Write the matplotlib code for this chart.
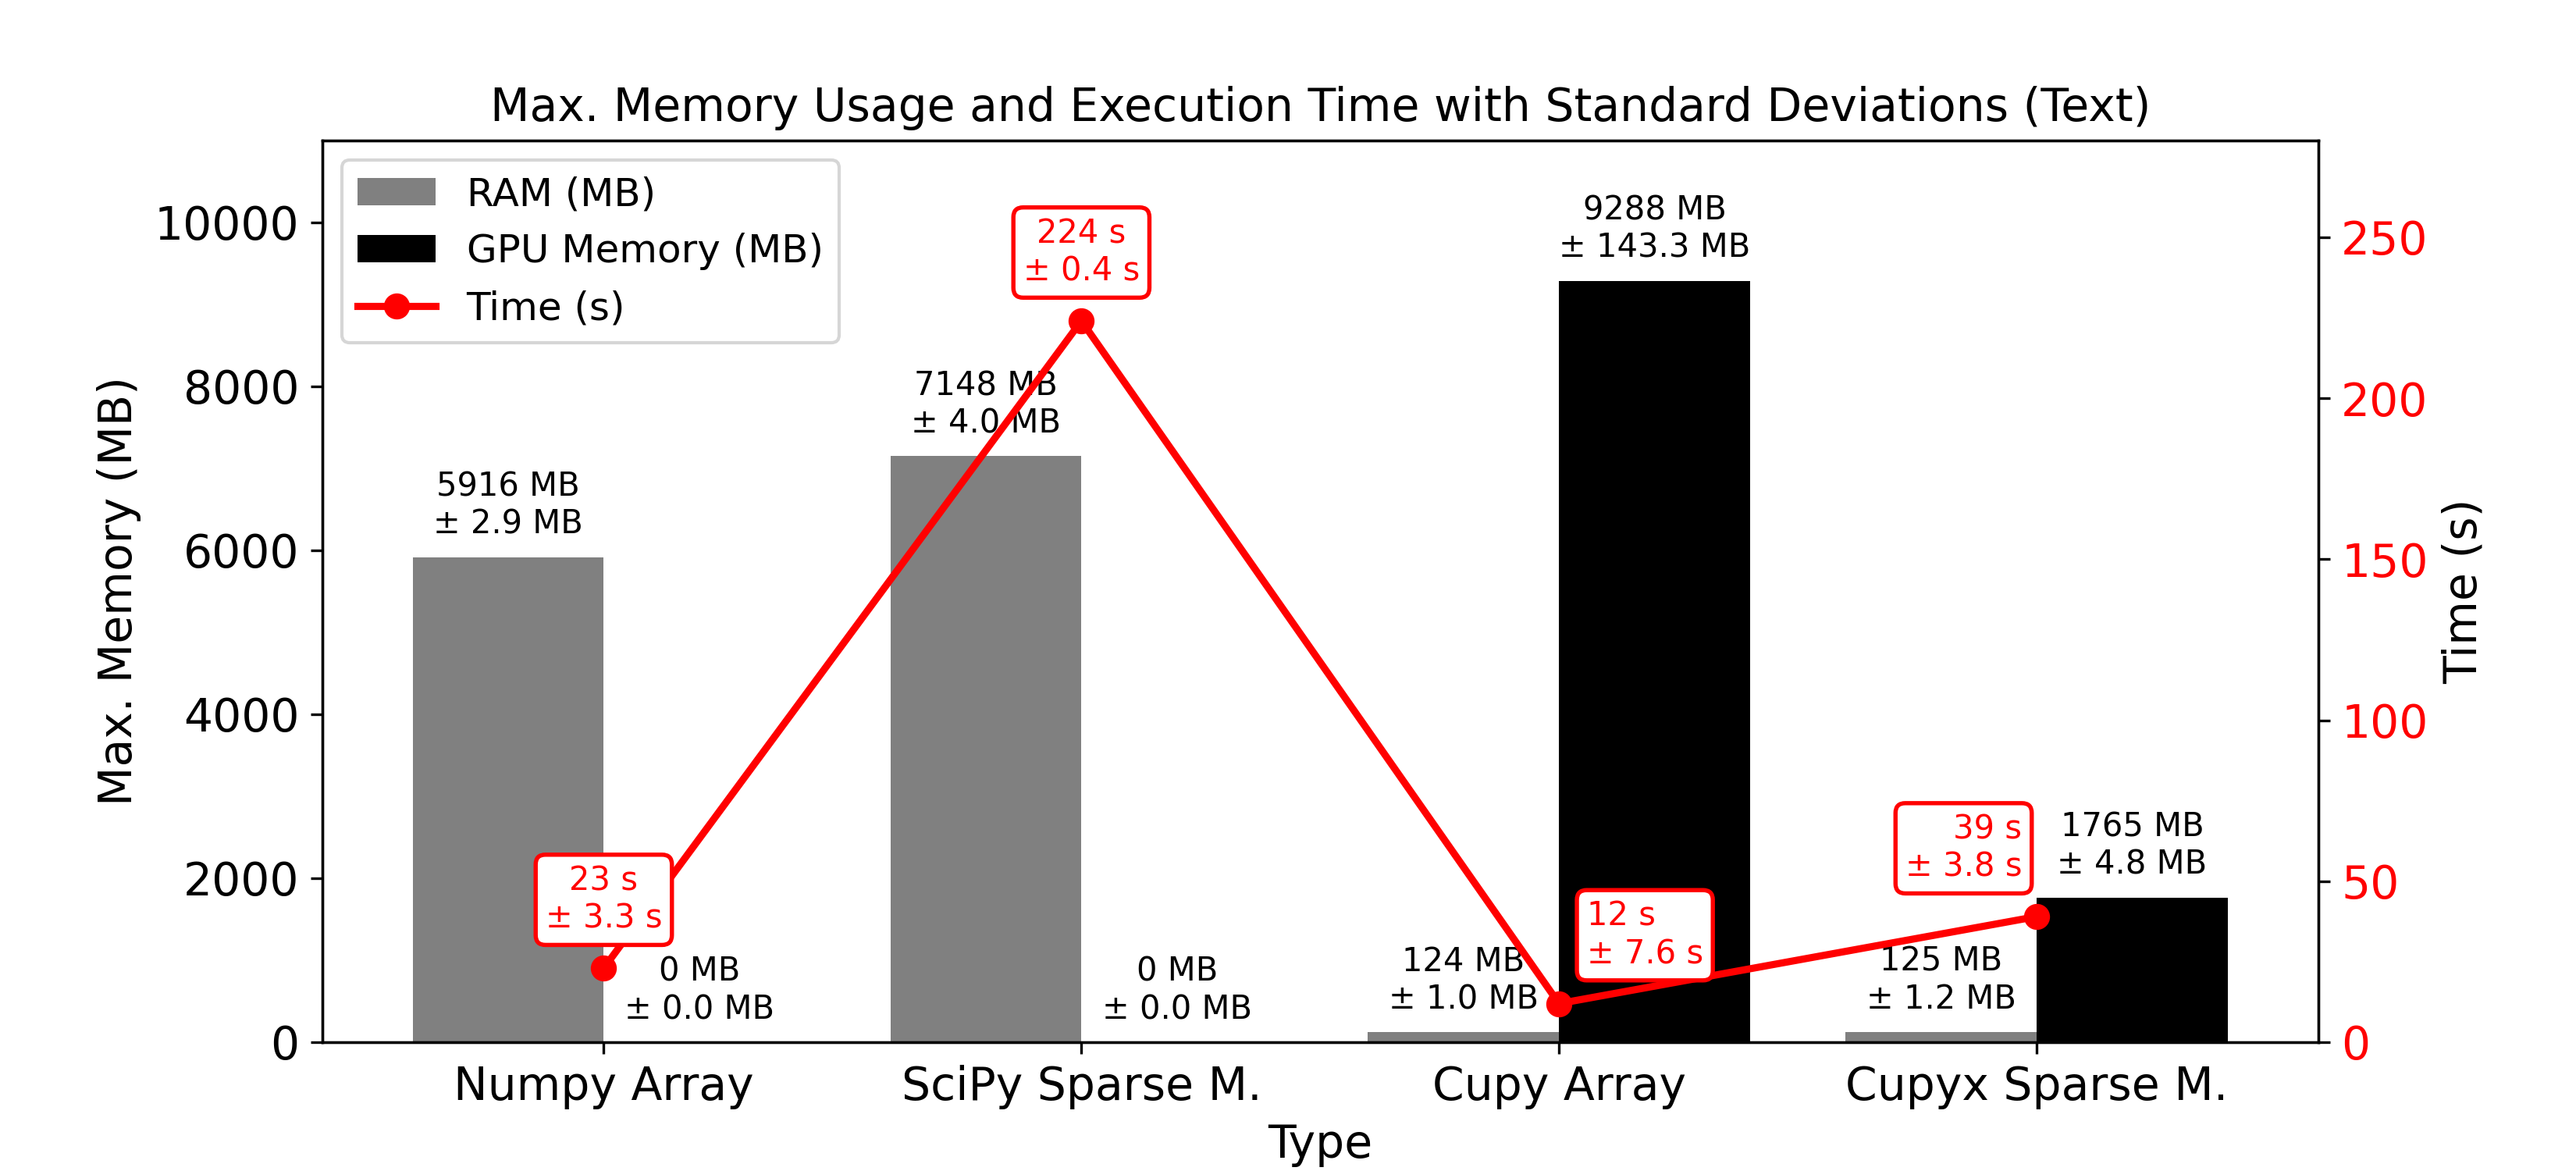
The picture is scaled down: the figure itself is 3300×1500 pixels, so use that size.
import matplotlib.pyplot as plt
import numpy as np

# data
types = ["Numpy Array", "SciPy Sparse M.", "Cupy Array", "Cupyx Sparse M."]
ram_mean = [5916, 7148, 124, 125]
ram_std = [2.9, 4.0, 1.0, 1.2]
gpu_mean = [0, 0, 9288, 1765]
gpu_std = [0.0, 0.0, 143.3, 4.8]
time_mean = [23, 224, 12, 39]
time_std = [3.3, 0.4, 7.6, 3.8]

# where each time label sits (offset points) and how it is aligned
time_dx = [0, 0, 8.5, -4.5]
time_ha = ["center", "center", "left", "right"]

x = np.arange(len(types))
width = 0.4

fig, ax1 = plt.subplots(figsize=(11, 5), dpi=300)

bars_ram = ax1.bar(x - width / 2, ram_mean, width, color="gray", label="RAM (MB)")
bars_gpu = ax1.bar(x + width / 2, gpu_mean, width, color="black", label="GPU Memory (MB)")

# memory labels above bars
for bars, means, stds in [(bars_ram, ram_mean, ram_std), (bars_gpu, gpu_mean, gpu_std)]:
    for b, m, s in zip(bars, means, stds):
        ax1.annotate(f"{m:.0f} MB\n± {s:.1f} MB",
                     xy=(b.get_x() + b.get_width() / 2, b.get_height()),
                     xytext=(0, 5), textcoords="offset points",
                     ha="center", va="bottom", fontsize=10)

ax1.set_ylim(0, 11000)
ax1.set_ylabel("Max. Memory (MB)", fontsize=14)
ax1.set_xlabel("Type", fontsize=14)
ax1.set_xticks(x)
ax1.set_xticklabels(types)
ax1.tick_params(axis="both", labelsize=14)

# time on the second axis
ax2 = ax1.twinx()
line, = ax2.plot(x, time_mean, color="red", marker="o", markersize=7,
                 linewidth=2.2, label="Time (s)")
ax2.set_ylim(0, 280)
ax2.set_ylabel("Time (s)", fontsize=14)
ax2.tick_params(axis="y", labelsize=14, labelcolor="red")

for i in range(len(x)):
    ax2.annotate(f"{time_mean[i]:.0f} s\n± {time_std[i]:.1f} s",
                 xy=(x[i], time_mean[i]),
                 xytext=(time_dx[i], 21), textcoords="offset points",
                 ha=time_ha[i], va="center", fontsize=10, color="red",
                 multialignment=time_ha[i],
                 bbox=dict(boxstyle="round,pad=0.3", fc="white", ec="red", lw=1.3))

handles = [bars_ram, bars_gpu, line]
ax2.legend(handles, [h.get_label() for h in handles], loc="upper left", fontsize=12)

plt.title("Max. Memory Usage and Execution Time with Standard Deviations (Text)", fontsize=14)
plt.savefig("out.png")
